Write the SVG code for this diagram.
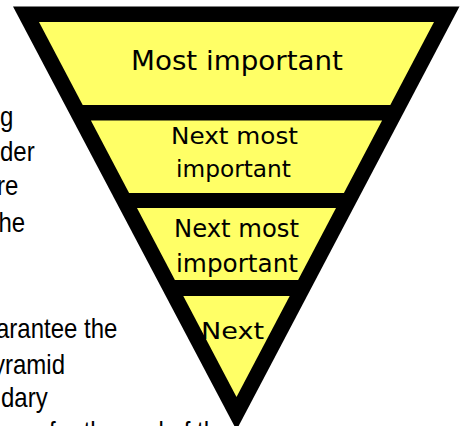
<svg xmlns="http://www.w3.org/2000/svg" width="461" height="426" viewBox="0 0 461 426">
  <style>
    .band { fill: #FFFF66; }
    .lbl { font-family: "Comic Sans MS", "DejaVu Sans", sans-serif; fill: #000; text-anchor: middle; }
    .side { font-family: "Liberation Sans", Arial, sans-serif; font-size: 24px; fill: #000; }
  </style>
  <rect x="0" y="0" width="461" height="426" fill="#FFFFFF"/>
  <g id="side-text">
    <text class="side" transform="translate(0,126) scale(1,1.15)">g</text>
    <text class="side" transform="translate(0,161) scale(1,1.15)">der</text>
    <text class="side" transform="translate(-3,195) scale(1,1.15)">re</text>
    <text class="side" transform="translate(-1.5,232) scale(1,1.15)">he</text>
    <text class="side" transform="translate(-4,338) scale(1,1.15)">arantee the</text>
    <text class="side" transform="translate(-7,374) scale(1,1.15)">yramid</text>
    <text class="side" transform="translate(1,407) scale(1,1.15)">dary</text>
    <text class="side" transform="translate(49,441) scale(1,1.15)">for the end of the</text>
  </g>
  <g id="pyramid">
    <polygon points="13,6.5 459.5,6.5 236.5,430" fill="#000"/>
  </g>
  <g id="band-1">
    <polygon class="band" points="39,22 434,22 390.3,105 82.7,105"/>
    <text class="lbl" x="237" y="69.5" font-size="27" textLength="212" lengthAdjust="spacingAndGlyphs">Most important</text>
  </g>
  <g id="band-2">
    <polygon class="band" points="90.9,120.5 382.1,120.5 343.9,193 129.1,193"/>
    <text class="lbl" x="234.5" y="144" font-size="23.5" textLength="127" lengthAdjust="spacingAndGlyphs">Next most</text>
    <text class="lbl" x="233.5" y="176.5" font-size="23.5" textLength="115" lengthAdjust="spacingAndGlyphs">important</text>
  </g>
  <g id="band-3">
    <polygon class="band" points="137,208 336,208 298.1,280 174.9,280"/>
    <text class="lbl" x="236.5" y="237" font-size="24" textLength="125" lengthAdjust="spacingAndGlyphs">Next most</text>
    <text class="lbl" x="237" y="272" font-size="24" textLength="122" lengthAdjust="spacingAndGlyphs">important</text>
  </g>
  <g id="band-4">
    <polygon class="band" points="183.3,296 289.7,296 236.5,397"/>
    <text class="lbl" x="232.5" y="339" font-size="23" textLength="63" lengthAdjust="spacingAndGlyphs">Next</text>
  </g>
</svg>
